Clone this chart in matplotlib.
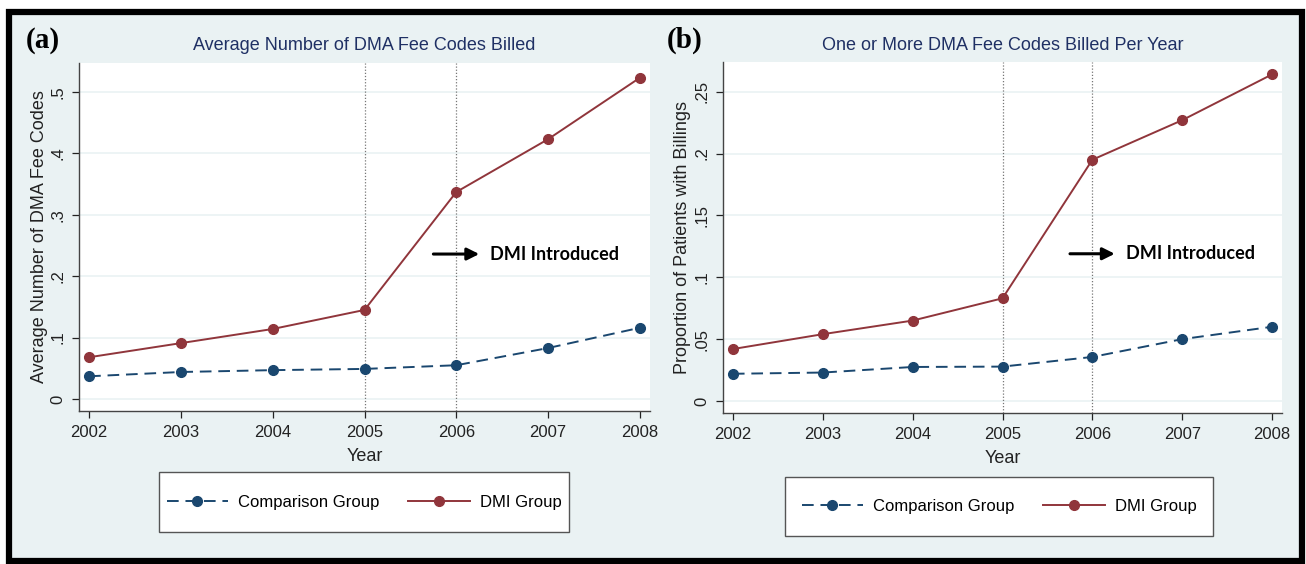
import numpy as np
import matplotlib.pyplot as plt
from matplotlib.patches import Rectangle

years = [2002, 2003, 2004, 2005, 2006, 2007, 2008]

# panel (a): average number of DMA fee codes
avg_comparison = [0.037, 0.044, 0.047, 0.049, 0.055, 0.083, 0.116]
avg_dmi = [0.068, 0.091, 0.114, 0.145, 0.337, 0.423, 0.523]
avg_ticks = [0, 0.1, 0.2, 0.3, 0.4, 0.5]
avg_ticklabels = ['0', '.1', '.2', '.3', '.4', '.5']

# panel (b): proportion with one or more codes
prop_comparison = [0.022, 0.023, 0.0275, 0.0278, 0.0356, 0.050, 0.060]
prop_dmi = [0.042, 0.054, 0.065, 0.083, 0.195, 0.227, 0.264]
prop_ticks = [0, 0.05, 0.1, 0.15, 0.2, 0.25]
prop_ticklabels = ['0', '.05', '.1', '.15', '.2', '.25']

W, H = 1306, 564
BG = '#eaf2f3'
NAVY = '#1a476f'
MAROON = '#90353b'
TITLE_C = '#1f3064'
TXT = '#222222'


def px(x0, y0, x1, y1):
    return [x0 / W, 1 - y1 / H, (x1 - x0) / W, (y1 - y0) / H]


fig = plt.figure(figsize=(W / 100, H / 100), dpi=100, facecolor='white')
plt.rcParams['font.family'] = ['Liberation Sans', 'DejaVu Sans']

# outer frame with bluish-gray graph region
fig.patches.append(Rectangle((9 / W, 1 - 561 / H), (1302 - 9) / W, (561 - 12) / H,
                             transform=fig.transFigure, facecolor=BG, edgecolor='black',
                             linewidth=4.5, zorder=-10))


def panel(rect, comp, dmi, ticks, ticklabels, ylim, title, ylabel, letter, letter_pos,
          arrow_y, legend_rect, ylabel_x):
    ax = fig.add_axes(px(*rect))
    ax.set_facecolor('white')
    ax.set_xlim(2001.89, 2008.11)
    ax.set_ylim(*ylim)

    for t in ticks:
        ax.axhline(t, color=BG, lw=1.2, zorder=0)
    for yr in (2005, 2006):
        ax.axvline(yr, color='#777777', lw=0.9, ls=(0, (1, 1.5)), zorder=1)

    ax.plot(years, comp, color=NAVY, lw=1.4, ls=(0, (6, 3.5)), marker='o', ms=7,
            label='Comparison Group', zorder=3)
    ax.plot(years, dmi, color=MAROON, lw=1.4, marker='o', ms=7,
            label='DMI Group', zorder=3)

    ax.set_xticks(years)
    ax.set_yticks(ticks)
    ax.set_yticklabels(ticklabels, rotation=90, va='center')
    ax.tick_params(labelsize=12, colors=TXT, length=5, width=0.9, pad=5)
    for s in ('top', 'right'):
        ax.spines[s].set_visible(False)
    for s in ('left', 'bottom'):
        ax.spines[s].set_color('#444444')
        ax.spines[s].set_linewidth(1.0)

    ax.set_xlabel('Year', fontsize=13, color=TXT, labelpad=6)
    ax.set_ylabel(ylabel, fontsize=13, color=TXT)
    ax.yaxis.set_label_coords((ylabel_x - rect[0]) / (rect[2] - rect[0]), 0.5)
    ax.set_title(title, fontsize=13, color=TITLE_C, pad=9)

    ax.annotate('', xy=(2006.28, arrow_y), xytext=(2005.72, arrow_y),
                arrowprops=dict(arrowstyle='-|>', color='black', lw=2.2, mutation_scale=18))
    ax.text(2006.37, arrow_y, 'DMI Introduced', fontsize=13, fontweight='bold',
            family=['Lato', 'DejaVu Sans'], va='center', ha='left', color='black')

    fig.text(letter_pos[0] / W, 1 - letter_pos[1] / H, letter, fontsize=21,
             fontweight='bold', family=['Liberation Serif', 'DejaVu Serif'],
             ha='left', va='center')

    # legend: white box drawn separately, frameless legend centred inside it
    lx0, ly0, lx1, ly1 = legend_rect
    fig.patches.append(Rectangle((lx0 / W, 1 - ly1 / H), (lx1 - lx0) / W, (ly1 - ly0) / H,
                                 transform=fig.transFigure, facecolor='white',
                                 edgecolor='#555555', linewidth=1.0, zorder=-5))
    fig.legend(handles=ax.get_lines()[-2:], loc='center', ncol=2,
               bbox_to_anchor=((lx0 + lx1) / 2 / W, 1 - (ly0 + ly1) / 2 / H),
               fontsize=12, handlelength=3.7, frameon=False,
               columnspacing=1.7, handletextpad=0.6, borderpad=0)
    return ax


panel((79, 63, 650, 411), avg_comparison, avg_dmi, avg_ticks, avg_ticklabels,
      (-0.0195, 0.547), 'Average Number of DMA Fee Codes Billed',
      'Average Number of DMA Fee Codes', '(a)', (26, 40), 0.236, (159, 472, 569, 532), 48)

panel((723, 62, 1282, 413), prop_comparison, prop_dmi, prop_ticks, prop_ticklabels,
      (-0.0097, 0.274), 'One or More DMA Fee Codes Billed Per Year',
      'Proportion of Patients with Billings', '(b)', (667, 40), 0.119, (785, 477, 1213, 536), 691)

fig.savefig('out.png', dpi=100, facecolor='white')
